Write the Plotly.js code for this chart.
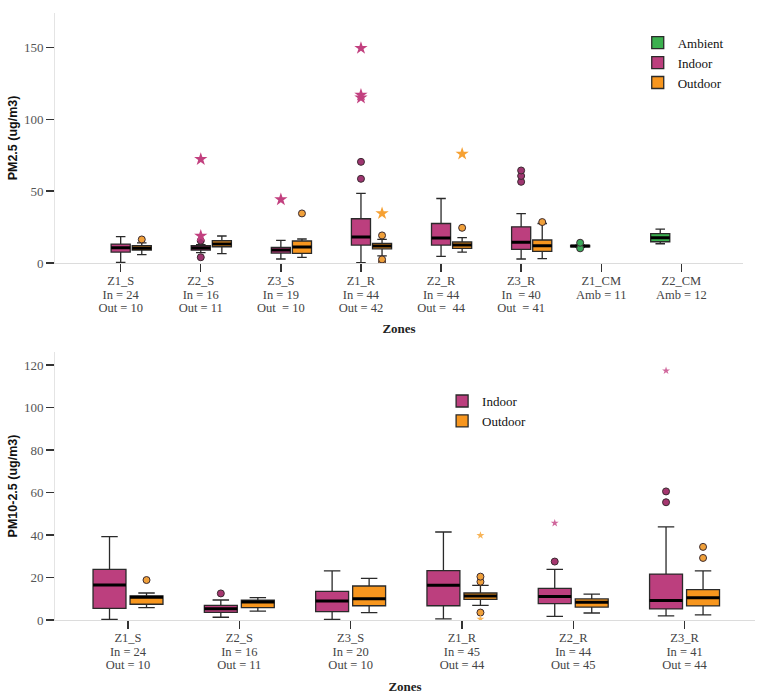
<!DOCTYPE html>
<html>
<head>
<meta charset="utf-8">
<script src="https://cdn.plot.ly/plotly-3.0.1.min.js"></script>
<style>
  html, body { margin: 0; padding: 0; background: #fff; }
  #top { width: 764px; height: 340px; }
  #bottom { width: 764px; height: 358px; }
</style>
</head>
<body>
<div id="top"></div>
<div id="bottom"></div>
<script>
// ---------------- PM2.5 (top panel) ----------------
const zones25 = ['Z1_S', 'Z2_S', 'Z3_S', 'Z1_R', 'Z2_R', 'Z3_R', 'Z1_CM', 'Z2_CM'];
const tickLabels25 = [
  'Z1_S<br>In = 24<br>Out = 10',
  'Z2_S<br>In = 16<br>Out = 11',
  'Z3_S<br>In = 19<br>Out  = 10',
  'Z1_R<br>In = 44<br>Out = 42',
  'Z2_R<br>In = 44<br>Out =  44',
  'Z3_R<br>In  = 40<br>Out  = 41',
  'Z1_CM<br>Amb = 11',
  'Z2_CM<br>Amb = 12'
];
const inZones25 = ['Z1_S', 'Z2_S', 'Z3_S', 'Z1_R', 'Z2_R', 'Z3_R'];
const in25_q1  = [7.6, 9.0, 6.9, 12.5, 12.5, 9.5];
const in25_med = [10.6, 10.4, 9.0, 18.1, 17.4, 14.4];
const in25_q3  = [13.2, 12.0, 10.9, 30.8, 27.5, 25.2];
const in25_lo  = [0.5, 7.2, 2.8, 0.2, 4.6, 2.8];
const in25_hi  = [18.3, 12.8, 15.7, 48.4, 44.9, 34.3];
const in25_outZone = ['Z2_S', 'Z2_S', 'Z1_R', 'Z1_R', 'Z3_R', 'Z3_R', 'Z3_R'];
const in25_outVal  = [15.5, 4.0, 70.4, 58.6, 64.4, 60.6, 56.5];
const in25_extZone = ['Z2_S', 'Z2_S', 'Z3_S', 'Z1_R', 'Z1_R', 'Z1_R'];
const in25_extVal  = [18.8, 72.2, 44.2, 149.5, 117.0, 115.0];

const out25_q1  = [9.0, 11.3, 6.7, 9.9, 10.2, 8.1];
const out25_med = [10.2, 13.2, 11.1, 11.8, 12.5, 12.0];
const out25_q3  = [12.0, 15.5, 15.3, 13.7, 14.6, 16.0];
const out25_lo  = [5.8, 6.5, 3.9, 4.9, 7.6, 3.0];
const out25_hi  = [14.0, 18.8, 16.7, 16.4, 17.6, 27.5];
const out25_outZone = ['Z1_S', 'Z3_S', 'Z1_R', 'Z1_R', 'Z1_R', 'Z2_R', 'Z3_R'];
const out25_outVal  = [16.4, 34.5, 19.2, 2.5, 0.8, 24.5, 28.5];
const out25_extZone = ['Z1_R', 'Z2_R'];
const out25_extVal  = [34.5, 75.9];

const ambZones25 = ['Z1_CM', 'Z2_CM'];
const amb25_q1  = [11.3, 14.8];
const amb25_med = [11.8, 17.6];
const amb25_q3  = [12.2, 20.4];
const amb25_lo  = [10.9, 13.4];
const amb25_hi  = [12.6, 23.6];
const amb25_outZone = ['Z1_CM', 'Z1_CM'];
const amb25_outVal  = [14.1, 10.2];

// ---------------- PM10-2.5 (bottom panel) ----------------
const zones10 = ['Z1_S', 'Z2_S', 'Z3_S', 'Z1_R', 'Z2_R', 'Z3_R'];
const tickLabels10 = [
  'Z1_S<br>In = 24<br>Out = 10',
  'Z2_S<br>In = 16<br>Out = 11',
  'Z3_S<br>In = 20<br>Out = 10',
  'Z1_R<br>In = 45<br>Out = 44',
  'Z2_R<br>In = 44<br>Out = 45',
  'Z3_R<br>In = 41<br>Out = 44'
];
const in10_q1  = [5.5, 3.6, 3.9, 6.7, 7.7, 5.2];
const in10_med = [16.5, 5.3, 8.9, 16.3, 11.1, 9.2];
const in10_q3  = [23.8, 6.9, 13.5, 23.2, 14.9, 21.6];
const in10_lo  = [0.3, 1.3, 0.3, 0.5, 1.7, 1.9];
const in10_hi  = [39.2, 9.4, 23.1, 41.4, 23.8, 43.8];
const in10_outZone = ['Z2_S', 'Z2_R', 'Z3_R', 'Z3_R'];
const in10_outVal  = [12.5, 27.5, 60.5, 55.4];
const in10_extZone = ['Z2_R', 'Z3_R'];
const in10_extVal  = [45.6, 117.3];

const out10_q1  = [7.4, 5.8, 6.7, 9.7, 6.1, 6.6];
const out10_med = [10.7, 8.5, 10.0, 11.3, 8.3, 10.5];
const out10_q3  = [11.3, 9.3, 16.0, 12.7, 9.9, 14.3];
const out10_lo  = [5.8, 4.2, 3.5, 6.9, 3.3, 2.4];
const out10_hi  = [12.7, 10.5, 19.6, 16.3, 12.2, 23.1];
const out10_outZone = ['Z1_S', 'Z1_R', 'Z1_R', 'Z1_R', 'Z3_R', 'Z3_R'];
const out10_outVal  = [18.8, 20.4, 18.0, 3.5, 34.4, 29.2];
const out10_extZone = ['Z1_R', 'Z1_R'];
const out10_extVal  = [39.8, 0.5];

// ---------------- styling ----------------
const C_IN = '#bc3f7e', C_OUT = '#f7961e', C_AMB = '#3bb04f';
const SERIF = '"Times New Roman", "Liberation Serif", "DejaVu Serif", serif';
const SANS = '"Liberation Sans", Arial, sans-serif';
const CLEAR = 'rgba(0,0,0,0)';

// tight line spacing: small base font sets the line pitch, span font sets the glyph size
function tightLabel(s) {
  return s.split('<br>').map(function (t) {
    return '<span style="font-size:12.5px">' + t + '</span>';
  }).join('<br>');
}

function boxPair(name, zones, q1, med, q3, lo, hi, color, group, showlegend) {
  const main = {
    type: 'box', name: name, x: zones, q1: q1, median: med, q3: q3,
    lowerfence: lo, upperfence: hi, boxpoints: false,
    fillcolor: color, line: {color: '#2a2a2a', width: 1.3}, whiskerwidth: 0.5,
    offsetgroup: group, alignmentgroup: 'a', showlegend: showlegend, hoverinfo: 'y'
  };
  const medLine = {
    type: 'box', name: name + ' median', x: zones, q1: med, median: med, q3: med,
    lowerfence: med, upperfence: med, boxpoints: false,
    fillcolor: CLEAR, line: {color: '#000', width: 3}, whiskerwidth: 0,
    offsetgroup: group, alignmentgroup: 'a', showlegend: false, hoverinfo: 'skip'
  };
  return [main, medLine];
}
function points(zones, vals, symbol, color, size, lineW, group) {
  return {
    type: 'box', x: zones, y: vals, boxpoints: 'all', jitter: 0, pointpos: 0,
    fillcolor: CLEAR, line: {color: CLEAR, width: 0}, whiskerwidth: 0,
    marker: {symbol: symbol, color: color, size: size, line: {color: '#3a2a30', width: lineW}},
    offsetgroup: group, alignmentgroup: 'a', showlegend: false, hoverinfo: 'y'
  };
}

function axisY(title, range, dtick) {
  return {
    range: range, dtick: dtick, ticks: 'outside', ticklen: 8, tickwidth: 1.4, tickcolor: '#333',
    showline: true, linecolor: '#e4e4e4', linewidth: 1, showgrid: false, zeroline: false,
    tickfont: {family: SERIF, size: 13, color: '#555'},
    title: {text: '<b>' + title + '</b>', font: {family: SANS, size: 12.5, color: '#111'}, standoff: 3}
  };
}
function axisX(zones, labels, range, standoff) {
  return {
    type: 'category', categoryorder: 'array', categoryarray: zones,
    tickvals: zones, ticktext: labels.map(tightLabel), range: range,
    ticks: 'outside', ticklen: 8, tickwidth: 1.4, tickcolor: '#333',
    showline: true, linecolor: '#dcdcdc', linewidth: 1, showgrid: false, zeroline: false,
    tickfont: {family: SERIF, size: 10.6, color: '#444'},
    title: {text: '<b>Zones</b>', font: {family: SERIF, size: 13, color: '#222'}, standoff: standoff}
  };
}

// top traces
const topData = [].concat(
  boxPair('Ambient', ambZones25, amb25_q1, amb25_med, amb25_q3, amb25_lo, amb25_hi, C_AMB, 'amb', true),
  boxPair('Indoor', inZones25, in25_q1, in25_med, in25_q3, in25_lo, in25_hi, C_IN, 'in', true),
  boxPair('Outdoor', inZones25, out25_q1, out25_med, out25_q3, out25_lo, out25_hi, C_OUT, 'out', true),
  [
    points(amb25_outZone, amb25_outVal, 'circle', '#3aa85a', 7, 1, 'amb'),
    points(in25_outZone, in25_outVal, 'circle', '#9e3570', 7, 1, 'in'),
    points(out25_outZone, out25_outVal, 'circle', '#f0a03a', 7, 1, 'out'),
    points(in25_extZone, in25_extVal, 'star', '#c2407f', 10, 0, 'in'),
    points(out25_extZone, out25_extVal, 'star', '#f6a133', 10, 0, 'out')
  ]
);
const topLayout = {
  width: 764, height: 340,
  margin: {l: 55, r: 21, t: 13, b: 77},
  paper_bgcolor: '#fff', plot_bgcolor: '#fff',
  boxmode: 'group', boxgap: 0.21, boxgroupgap: 0.095,
  xaxis: axisX(zones25, tickLabels25, [-0.82, 7.77], 9),
  yaxis: axisY('PM2.5 (ug/m3)', [0, 174], 50),
  legend: {x: 0.847, y: 0.941, xanchor: 'left', yanchor: 'top', bgcolor: CLEAR,
           font: {family: SERIF, size: 13, color: '#111'}, tracegroupgap: 0},
  showlegend: true
};

// bottom traces
const botData = [].concat(
  boxPair('Indoor', zones10, in10_q1, in10_med, in10_q3, in10_lo, in10_hi, C_IN, 'in', true),
  boxPair('Outdoor', zones10, out10_q1, out10_med, out10_q3, out10_lo, out10_hi, C_OUT, 'out', true),
  [
    points(in10_outZone, in10_outVal, 'circle', '#a5366f', 7, 1, 'in'),
    points(out10_outZone, out10_outVal, 'circle', '#f0a03a', 7, 1, 'out'),
    points(in10_extZone, in10_extVal, 'star', '#d0679c', 6, 0, 'in'),
    points(out10_extZone, out10_extVal, 'star', '#f7b458', 6, 0, 'out')
  ]
);
const botLayout = {
  width: 764, height: 358,
  margin: {l: 55, r: 9, t: 12, b: 78},
  paper_bgcolor: '#fff', plot_bgcolor: '#fff',
  boxmode: 'group', boxgap: 0.335, boxgroupgap: 0.11,
  xaxis: axisX(zones10, tickLabels10, [-0.656, 5.633], 10),
  yaxis: axisY('PM10-2.5 (ug/m3)', [0, 126.1], 20),
  legend: {x: 0.553, y: 0.873, xanchor: 'left', yanchor: 'top', bgcolor: CLEAR,
           font: {family: SERIF, size: 13, color: '#111'}, tracegroupgap: 0},
  showlegend: true
};

const cfg = {displayModeBar: false, staticPlot: true};
Plotly.newPlot('top', topData, topLayout, cfg);
Plotly.newPlot('bottom', botData, botLayout, cfg);
</script>
</body>
</html>
